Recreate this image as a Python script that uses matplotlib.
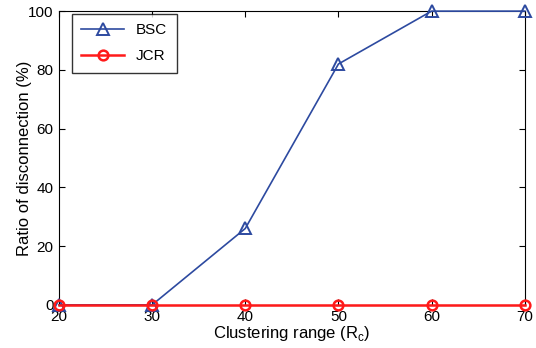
import matplotlib
matplotlib.use("Agg")
import matplotlib.pyplot as plt

plt.rcParams['font.family'] = ['Liberation Sans', 'DejaVu Sans']

# Clustering range vs. ratio of disconnection
ranges = [20, 30, 40, 50, 60, 70]
bsc = [0, 0, 26, 82, 100, 100]
jcr = [0, 0, 0, 0, 0, 0]

fig = plt.figure(figsize=(5.36, 3.48), dpi=100)
ax = fig.add_axes([0.110, 0.124, 0.869, 0.844])

ax.plot(ranges, bsc, '-^', color='#2d4aa0', lw=1.2, ms=8.5, mfc='none',
        mew=1.4, label='BSC', clip_on=False, zorder=3)
ax.plot(ranges, jcr, '-o', color='#ff1a1a', lw=1.8, ms=7, mfc='none',
        mew=1.8, label='JCR', clip_on=False, zorder=4)

ax.set_xlim(20, 70)
ax.set_ylim(0, 100)
ax.set_xticks(ranges)
ax.set_yticks([0, 20, 40, 60, 80, 100])
ax.tick_params(direction='in', top=True, right=True, labelsize=11, length=4, pad=4)
ax.set_xlabel('Clustering range (R$_\\mathregular{c}$)', fontsize=12, labelpad=0)
ax.set_ylabel('Ratio of disconnection (%)', fontsize=12, labelpad=-3)

leg = ax.legend(loc='upper left', bbox_to_anchor=(0.028, 0.99), borderaxespad=0,
                fontsize=11, fancybox=False, edgecolor='black',
                handlelength=2.8, labelspacing=0.8, borderpad=0.6)
leg.get_frame().set_linewidth(1.0)

fig.savefig('out.png', dpi=100)
